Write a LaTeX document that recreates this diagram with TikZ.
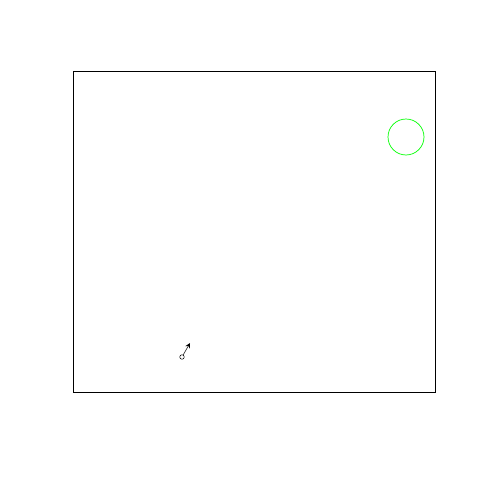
\documentclass[tikz,border=0pt]{standalone}
\usepackage{tikz}
\usetikzlibrary{arrows,positioning}

\begin{document}
\begin{tikzpicture}[x=0.02cm, y=-0.02cm]
    \useasboundingbox (0,0) rectangle (480,480);
    \draw[thin] (73,71) rectangle (435,392);
    \node[draw=green, circle, minimum size=0.72cm, inner sep=0pt] (target) at (406,137) {};
    \node[draw, circle, minimum size=0.09cm, inner sep=0pt, line width=0.3pt] (start) at (182,357) {};
    \coordinate (tip) at (190,343);
    \draw[->, >=stealth, line width=0.3pt] (start) -- (tip);
\end{tikzpicture}
\end{document}
